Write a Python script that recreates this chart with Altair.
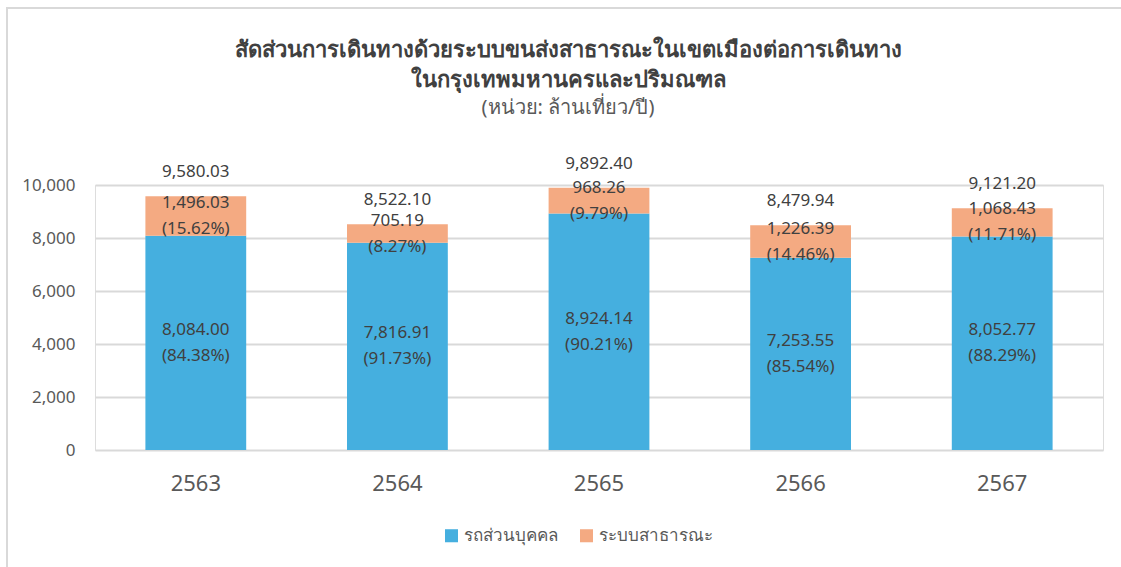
import altair as alt
import pandas as pd

years = ["2563", "2564", "2565", "2566", "2567"]
private_vals = [8084.00, 7816.91, 8924.14, 7253.55, 8052.77]
public_vals = [1496.03, 705.19, 968.26, 1226.39, 1068.43]
private_pct = [84.38, 91.73, 90.21, 85.54, 88.29]
public_pct = [15.62, 8.27, 9.79, 14.46, 11.71]
totals = [9580.03, 8522.10, 9892.40, 8479.94, 9121.20]
cat_private = "รถส่วนบุคคล"
cat_public = "ระบบสาธารณะ"
y_ticks = [0, 2000, 4000, 6000, 8000, 10000]

FONT = "Noto Sans, sans-serif"
BLUE = "#45AFDF"
ORANGE = "#F4AA82"
TXT = "#404040"
AX = "#595959"
GRID = "#D9D9D9"

rows = []
labels = []
for i, y in enumerate(years):
    rows.append({"year": y, "cat": cat_private, "value": private_vals[i], "order": 0})
    rows.append({"year": y, "cat": cat_public, "value": public_vals[i], "order": 1})
    labels.append({"year": y, "mid": private_vals[i] / 2,
                   "label": f"{private_vals[i]:,.2f}\n({private_pct[i]:.2f}%)"})
    labels.append({"year": y, "mid": private_vals[i] + public_vals[i] / 2,
                   "label": f"{public_vals[i]:,.2f}\n({public_pct[i]:.2f}%)"})
bars_df = pd.DataFrame(rows)
labels_df = pd.DataFrame(labels)
tot_df = pd.DataFrame({"year": years, "total": totals,
                       "label": [f"{t:,.2f}" for t in totals]})

xenc = alt.X("year:N", sort=years,
             scale=alt.Scale(paddingInner=0.5, paddingOuter=0.25),
             axis=alt.Axis(title=None, labelAngle=0, labelFontSize=22, labelColor=AX,
                           domain=False, ticks=False, labelPadding=23, labelFont=FONT))
yscale = alt.Scale(domain=[0, 10000], nice=False)

bars = alt.Chart(bars_df).mark_bar().encode(
    x=xenc,
    y=alt.Y("value:Q", stack="zero", scale=yscale,
            axis=alt.Axis(title=None, values=y_ticks, format=",.0f", domain=False, ticks=False,
                          labelFontSize=17, labelColor=AX, gridColor=GRID, gridWidth=2,
                          labelPadding=20, labelFont=FONT)),
    color=alt.Color("cat:N", sort=[cat_private, cat_public],
                    scale=alt.Scale(domain=[cat_private, cat_public], range=[BLUE, ORANGE]),
                    legend=alt.Legend(title=None, orient="none", direction="horizontal",
                                      legendX=348, legendY=342,
                                      symbolType="square",
                                      symbolSize=170, symbolStrokeWidth=0, labelFontSize=17,
                                      labelColor=AX, labelFont=FONT, columnPadding=20)),
    order=alt.Order("order:Q"),
)

seg_text = alt.Chart(labels_df).mark_text(
    fontSize=17, color=TXT, font=FONT, lineBreak="\n", lineHeight=26, baseline="middle", dy=-13
).encode(x=alt.X("year:N", sort=years), y=alt.Y("mid:Q", scale=yscale), text="label:N")

tot_text = alt.Chart(tot_df).mark_text(
    fontSize=17, color=TXT, font=FONT, baseline="bottom", dy=-15
).encode(x=alt.X("year:N", sort=years), y=alt.Y("total:Q", scale=yscale), text="label:N")

border_left = alt.Chart(tot_df).mark_rule(color=GRID, strokeWidth=2).encode(
    x=alt.value(-88), y=alt.value(-177), y2=alt.value(382))
border_top = alt.Chart(tot_df).mark_rule(color=GRID, strokeWidth=2).encode(
    x=alt.value(-89), x2=alt.value(1030), y=alt.value(-177))

chart = alt.layer(bars, seg_text, tot_text, border_left, border_top).properties(
    width=1008, height=265,
    title=alt.Title(
        text=["สัดส่วนการเดินทางด้วยระบบขนส่งสาธารณะในเขตเมืองต่อการเดินทาง",
              "ในกรุงเทพมหานครและปริมณฑล"],
        subtitle="(หน่วย: ล้านเที่ยว/ปี)",
        fontSize=22, fontWeight=600, color=TXT, font=FONT, lineHeight=30,
        subtitleFontSize=20, subtitleFontWeight=400, subtitleColor=AX,
        subtitleFont=FONT, subtitlePadding=6,
        anchor="middle", dx=-31, offset=-112),
    padding={"left": 95, "top": 185, "right": 18, "bottom": 117},
    autosize=alt.AutoSizeParams(type="none"),
).configure_view(stroke=None).configure(background="white")

chart.save("out.html", embed_options={"renderer": "svg", "actions": False})
